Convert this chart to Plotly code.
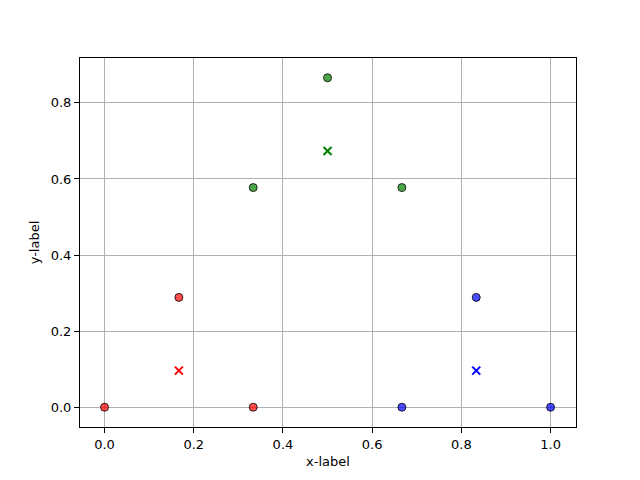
import plotly.graph_objects as go

red_x = [0.0, 1/6, 1/3]
red_y = [0.0, 0.2887, 0.0]
green_x = [1/3, 0.5, 2/3]
green_y = [0.5774, 0.8660, 0.5774]
blue_x = [2/3, 5/6, 1.0]
blue_y = [0.0, 0.2887, 0.0]
cent_x = [1/6, 0.5, 5/6]
cent_y = [0.0962, 0.6736, 0.0962]
cent_colors = ["red", "green", "blue"]

fig = go.Figure()
for xs, ys, c in [(red_x, red_y, "rgba(255,0,0,0.7)"),
                  (green_x, green_y, "rgba(0,128,0,0.7)"),
                  (blue_x, blue_y, "rgba(0,0,255,0.7)")]:
    fig.add_trace(go.Scatter(x=xs, y=ys, mode="markers",
                             marker=dict(size=8, color=c, line=dict(color="rgba(0,0,0,0.8)", width=1))))
fig.add_trace(go.Scatter(x=cent_x, y=cent_y, mode="markers",
                         marker=dict(symbol="x-thin", size=8, color=cent_colors,
                                     line=dict(color=cent_colors, width=2))))

axis_common = dict(showgrid=True, gridcolor="#b0b0b0", gridwidth=0.8,
                   showline=True, linecolor="black", linewidth=1, mirror=True,
                   ticks="outside", ticklen=5, tickcolor="black", zeroline=False,
                   tickfont=dict(size=13, color="black"))
fig.update_xaxes(range=[-0.055, 1.057], dtick=0.2, tickformat=".1f",
                 title=dict(text="x-label", font=dict(size=13, color="black"), standoff=6), **axis_common)
fig.update_yaxes(range=[-0.052, 0.918], dtick=0.2, tickformat=".1f",
                 title=dict(text="y-label", font=dict(size=13, color="black"), standoff=8), **axis_common)
fig.update_layout(width=640, height=480, showlegend=False,
                  plot_bgcolor="white", paper_bgcolor="white",
                  font=dict(family="DejaVu Sans", color="black"),
                  margin=dict(l=72, r=72, t=50, b=61))
fig.write_html("out.html")
